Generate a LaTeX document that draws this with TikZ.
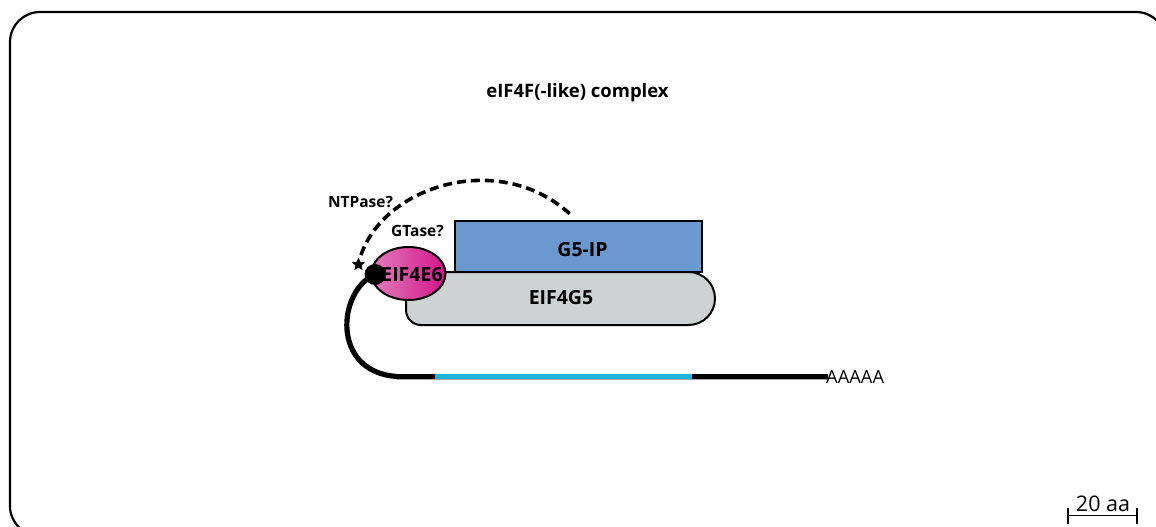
\documentclass[tikz,border=0pt]{standalone}
\usepackage{fontspec}
\setmainfont{Open Sans}
\usetikzlibrary{shapes.geometric}
\definecolor{gipblue}{HTML}{6A98CF}
\definecolor{ggray}{HTML}{CDD3D2}
\definecolor{mcyan}{HTML}{1CB5E3}
\definecolor{pinkL}{HTML}{E27DBB}
\definecolor{pinkR}{HTML}{D2158A}
\tikzset{
  lbl/.style={font=\bfseries\fontsize{15.5}{17}\selectfont, inner sep=0pt},
  protlbl/.style={font=\bfseries\fontsize{19.5}{21}\selectfont, inner sep=0pt},
  rna/.style={line width=5.2pt, line cap=butt},
  outl/.style={line width=2pt},
}
\begin{document}
\begin{tikzpicture}[x=1pt,y=-1pt]
\useasboundingbox (0,0) rectangle (1156,527);
\begin{scope}
\clip (0,0) rectangle (1156,527);
\draw[line width=2.2pt, rounded corners=30pt] (10,12) rectangle (1166,536);
\end{scope}

% title
\node[font=\bfseries\fontsize{18.5}{20}\selectfont, inner sep=0pt] (title) at (577.5,93) {eIF4F(-like) complex};

% EIF4G5 body
\draw[fill=ggray, outl] (406,285) -- (406,272) -- (688.5,272)
  .. controls (703.1,272) and (715,283.9) .. (715,298.5)
  .. controls (715,313.1) and (703.1,325) .. (688.5,325) -- (421,325)
  .. controls (412.7,325) and (406,318.3) .. (406,310) -- cycle;
\node[protlbl] (g5) at (561,298) {EIF4G5};

% G5-IP
\node[draw, outl, fill=gipblue, minimum width=247pt, minimum height=51pt, inner sep=0pt] (gip) at (578.5,246.5) {};
\node[protlbl] (giplbl) at (582.5,250) {G5-IP};

% mRNA
\coordinate (m0) at (397,376.5);
\coordinate (m1) at (435,376.5);
\coordinate (m2) at (692,376.5);
\coordinate (m3) at (828,376.5);
\draw[line width=6pt, color=gray!70] (m0) -- (m3);
\draw[line width=4.4pt] (m0) -- (m1);
\draw[line width=4.4pt, mcyan] (m1) -- (m2);
\draw[line width=4.4pt] (m2) -- (m3);
\node[anchor=west, font=\fontsize{18.3}{20}\selectfont, inner sep=0pt] (polyA) at (826,377) {AAAAA};

% EIF4E6
\node[ellipse, draw, outl, left color=pinkL, right color=pinkR, minimum width=74pt, minimum height=53pt, inner sep=0pt] (e6) at (408.5,273.5) {};
\node[protlbl] (e6lbl) at (412,275) {EIF4E6};

% cap
\node[circle, fill=black, minimum size=21pt, inner sep=0pt] (cap) at (375,274.5) {};
\draw[rna] (cap.center) .. controls (338,290) and (330,372) .. (m0);
\node[star, star points=5, star point ratio=2.2, fill=black, minimum size=14pt, inner sep=0pt] (star) at (358.5,264.5) {};

% dashed arc
\coordinate (d0) at (361,255);
\coordinate (d1) at (570,214);
\draw[line width=3.6pt, dash pattern=on 9pt off 5pt] (d0) .. controls (385,185) and (500,150) .. (d1);

\node[lbl] (ntp) at (360.5,202) {NTPase?};
\node[lbl] (gt) at (417.5,231) {GTase?};

% scale bar
\coordinate (s0) at (1068,515.5);
\coordinate (s1) at (1137,515.5);
\draw[line width=1.8pt] (s0) -- (s1);
\draw[line width=1.8pt] ([yshift=-8pt]s0) -- ([yshift=8pt]s0);
\draw[line width=1.8pt] ([yshift=-8pt]s1) -- ([yshift=8pt]s1);
\node[font=\fontsize{21.5}{23}\selectfont, inner sep=0pt, anchor=south] (sc) at (1103,512) {20 aa};
\end{tikzpicture}
\end{document}
